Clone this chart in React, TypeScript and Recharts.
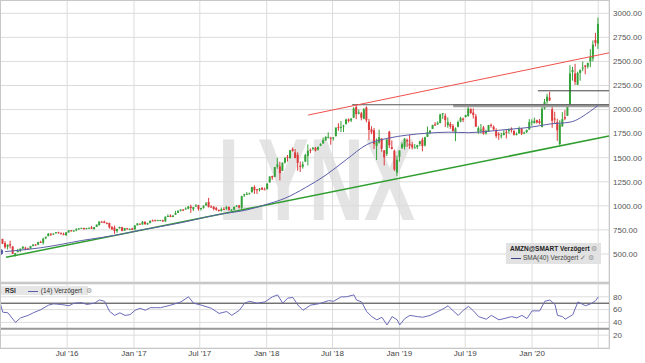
import React from "react";
import {
  ComposedChart, LineChart, Line, Bar, XAxis, YAxis, CartesianGrid, ReferenceLine,
} from "recharts";

// weekly AMZN candles [open, high, low, close], first week starts Mon 28 Dec 2015
const weeks2015 = [[675, 696, 671, 676]];
const weeks2016 = [
  [656, 658, 604, 607], [612, 633, 556, 570], [575, 599, 547, 596], [601, 638, 558, 587],
  [578, 582, 500, 502], [490, 510, 474, 507], [520, 553, 516, 534], [536, 558, 520, 555],
  [557, 581, 549, 575], [565, 575, 538, 560], [557, 565, 546, 552], [556, 585, 552, 583],
  [584, 600, 578, 598], [598, 603, 585, 594], [596, 627, 592, 624], [625, 637, 617, 620],
  [616, 669, 598, 659], [663, 680, 654, 679], [685, 718, 683, 710], [711, 715, 687, 702],
  [704, 715, 699, 712], [717, 728, 711, 726], [725, 731, 712, 717], [716, 725, 704, 707],
  [710, 722, 694, 698], [697, 726, 686, 725], [724, 746, 720, 745], [746, 749, 733, 736],
  [740, 747, 732, 744], [746, 767, 736, 758], [759, 768, 753, 766], [766, 772, 765, 772],
  [771, 771, 754, 757], [759, 771, 756, 769], [767, 774, 766, 772], [776, 791, 760, 761],
  [758, 780, 753, 778], [782, 806, 781, 805], [799, 838, 796, 837], [835, 844, 828, 834],
  [836, 847, 819, 822], [824, 827, 808, 818], [822, 825, 764, 776], [779, 791, 753, 755],
  [775, 795, 710, 739], [738, 762, 720, 760], [766, 784, 765, 780], [778, 782, 735, 740],
  [743, 770, 741, 768], [767, 771, 753, 757], [758, 767, 757, 760], [766, 772, 748, 750],
];
const weeks2017 = [
  [757, 799, 747, 796], [798, 820, 796, 817], [815, 816, 803, 808], [806, 843, 806, 835],
  [833, 841, 803, 810], [807, 825, 803, 821], [821, 847, 819, 845], [848, 858, 840, 845],
  [851, 857, 839, 850], [847, 855, 841, 852], [851, 854, 842, 852], [850, 856, 833, 845],
  [838, 890, 835, 887], [888, 912, 885, 894], [899, 911, 883, 884], [884, 905, 883, 898],
  [908, 948, 905, 925], [927, 952, 926, 950], [949, 962, 942, 962], [962, 966, 946, 959],
  [964, 985, 962, 972], [970, 998, 964, 993], [992, 1012, 927, 978], [965, 990, 945, 987],
  [1000, 1017, 992, 1003], [1006, 1011, 950, 968], [972, 980, 951, 978], [980, 1006, 970, 1001],
  [1005, 1040, 1000, 1025], [1040, 1083, 983, 987], [992, 1006, 980, 987], [990, 997, 953, 967],
  [977, 990, 950, 958], [958, 962, 940, 946], [946, 983, 940, 965], [968, 985, 960, 965],
  [970, 1000, 960, 986], [990, 992, 951, 956], [955, 965, 946, 961], [960, 992, 958, 990],
  [992, 1008, 990, 1002], [1005, 1009, 973, 982], [982, 1105, 966, 1101], [1110, 1125, 1092, 1120],
  [1120, 1143, 1113, 1125], [1125, 1137, 1120, 1130], [1141, 1198, 1138, 1195], [1197, 1213, 1124, 1162],
  [1173, 1175, 1124, 1162], [1166, 1185, 1150, 1180], [1187, 1194, 1167, 1168], [1172, 1190, 1168, 1169],
];
const weeks2018 = [
  [1173, 1236, 1170, 1230], [1245, 1305, 1240, 1305], [1309, 1314, 1270, 1294], [1301, 1403, 1301, 1403],
  [1408, 1498, 1385, 1430], [1410, 1458, 1265, 1339], [1364, 1451, 1362, 1448], [1449, 1500, 1440, 1500],
  [1509, 1528, 1460, 1500], [1494, 1579, 1493, 1578], [1589, 1606, 1563, 1571], [1555, 1590, 1495, 1496],
  [1530, 1556, 1366, 1447], [1417, 1460, 1352, 1405], [1407, 1460, 1387, 1431], [1460, 1540, 1455, 1527],
  [1519, 1638, 1420, 1572], [1582, 1596, 1546, 1581], [1600, 1612, 1576, 1602], [1604, 1611, 1565, 1574],
  [1585, 1616, 1575, 1610], [1625, 1650, 1620, 1641], [1648, 1710, 1646, 1683], [1681, 1723, 1675, 1716],
  [1706, 1763, 1700, 1716], [1707, 1717, 1635, 1700], [1699, 1714, 1678, 1710], [1724, 1813, 1720, 1813],
  [1821, 1858, 1780, 1813], [1812, 1880, 1766, 1818], [1827, 1842, 1767, 1834], [1848, 1906, 1846, 1896],
  [1898, 1908, 1865, 1882], [1886, 1912, 1870, 1905], [1916, 2025, 1912, 2012], [2026, 2050, 1900, 1952],
  [1958, 2000, 1950, 1970], [1961, 1976, 1888, 1915], [1904, 2016, 1900, 2003], [2021, 2033, 1868, 1889],
  [1874, 1903, 1685, 1788], [1795, 1826, 1745, 1764], [1784, 1809, 1590, 1642], [1622, 1700, 1476, 1665],
  [1657, 1791, 1647, 1712], [1700, 1700, 1562, 1593], [1578, 1578, 1420, 1502], [1539, 1690, 1517, 1690],
  [1769, 1779, 1600, 1629], [1610, 1679, 1586, 1591], [1571, 1585, 1363, 1377], [1346, 1520, 1307, 1478],
  [1510, 1575, 1460, 1575],
];
const weeks2019 = [
  [1602, 1660, 1590, 1640], [1615, 1705, 1586, 1697], [1684, 1699, 1612, 1670], [1644, 1736, 1590, 1626],
  [1638, 1665, 1586, 1607], [1600, 1642, 1598, 1607], [1610, 1634, 1590, 1631], [1642, 1676, 1620, 1671],
  [1686, 1709, 1566, 1620], [1627, 1718, 1617, 1712], [1716, 1823, 1715, 1764], [1760, 1785, 1745, 1781],
  [1800, 1842, 1798, 1838], [1845, 1870, 1830, 1843], [1846, 1877, 1842, 1861], [1860, 1956, 1858, 1950],
  [1960, 1965, 1903, 1962], [1935, 1959, 1818, 1890], [1837, 1917, 1811, 1869], [1851, 1870, 1800, 1823],
  [1830, 1849, 1772, 1776], [1760, 1815, 1672, 1804], [1822, 1885, 1815, 1870], [1876, 1925, 1868, 1911],
  [1906, 1917, 1870, 1893], [1922, 1946, 1918, 1942], [1934, 2035, 1925, 2011], [2007, 2012, 1955, 1964],
  [1969, 2012, 1907, 1943], [1930, 1953, 1820, 1823], [1770, 1826, 1748, 1807], [1790, 1850, 1753, 1792],
  [1814, 1830, 1740, 1749], [1754, 1792, 1740, 1777], [1770, 1841, 1768, 1839], [1841, 1855, 1812, 1839],
  [1822, 1835, 1783, 1794], [1777, 1805, 1704, 1725], [1746, 1765, 1685, 1739], [1725, 1760, 1700, 1732],
  [1736, 1786, 1732, 1757], [1769, 1798, 1700, 1762], [1777, 1803, 1750, 1791], [1801, 1815, 1762, 1785],
  [1778, 1785, 1730, 1739], [1738, 1762, 1733, 1745], [1753, 1824, 1750, 1800], [1804, 1805, 1735, 1751],
  [1751, 1772, 1745, 1760], [1767, 1792, 1756, 1787], [1794, 1901, 1788, 1869], [1874, 1899, 1832, 1875],
];
const weeks2020 = [
  [1860, 1917, 1855, 1883], [1890, 1895, 1855, 1865], [1880, 1902, 1846, 1861], [1820, 2055, 1815, 2008],
  [2010, 2110, 2000, 2079], [2085, 2163, 2060, 2134], [2125, 2185, 2088, 2095], [2003, 2040, 1811, 1883],
  [1907, 1977, 1850, 1901], [1870, 1905, 1675, 1785], [1641, 1890, 1626, 1846], [1827, 1973, 1820, 1901],
  [1922, 1994, 1889, 1906], [1936, 2053, 1934, 2042], [2044, 2461, 2040, 2375], [2389, 2444, 2300, 2410],
  [2375, 2475, 2256, 2287], [2258, 2394, 2256, 2380], [2380, 2419, 2300, 2409], [2426, 2500, 2398, 2436],
  [2458, 2462, 2367, 2443], [2448, 2488, 2426, 2483], [2500, 2626, 2440, 2545], [2531, 2718, 2500, 2675],
  [2722, 2796, 2655, 2692], [2685, 2955, 2630, 2890],
];

// SMA(40), keyed by week index
const smaWeeks = [0, 8, 16, 24, 32, 40, 48, 56, 64, 72, 80, 88, 96, 104, 112, 120, 128, 136, 144, 152, 160, 168, 176, 184, 192, 200, 208, 216, 224, 232, 235];
const smaValues = [520, 540, 565, 600, 640, 672, 708, 752, 790, 830, 878, 920, 952, 1010, 1080, 1190, 1320, 1480, 1635, 1700, 1735, 1755, 1765, 1760, 1775, 1795, 1815, 1850, 1870, 1985, 2045];

// RSI(14), keyed by week index
const rsiWeeks = [0, 1, 3, 6, 8, 11, 13, 16, 19, 21, 24, 27, 29, 32, 34, 37, 39, 41, 43, 45, 47, 49, 51, 53, 55, 57, 59, 61, 63, 67, 71, 74, 76, 79, 83, 86, 89, 91, 94, 96, 98, 101, 104, 107, 109, 111, 113, 115, 117, 119, 122, 125, 126, 129, 131, 134, 136, 139, 140, 142, 144, 146, 148, 150, 152, 154, 156, 157, 159, 161, 164, 166, 169, 172, 174, 176, 178, 180, 182, 184, 186, 188, 191, 193, 196, 198, 201, 203, 205, 207, 209, 212, 214, 216, 218, 219, 221, 222, 225, 227, 229, 230, 232, 234, 235];
const rsiValues = [70, 56, 55, 40, 47, 51, 55, 60, 67, 69, 68, 66, 70, 71, 68, 70, 75, 73, 57, 51, 55, 51, 52, 59, 62, 59, 63, 63, 63, 67, 72, 80, 70, 67, 62, 54, 57, 51, 59, 70, 73, 70, 72, 80, 83, 70, 78, 79, 67, 59, 67, 69, 70, 74, 73, 80, 80, 83, 75, 72, 57, 49, 44, 48, 36, 49, 44, 36, 46, 51, 49, 48, 51, 57, 61, 66, 58, 51, 59, 65, 58, 49, 45, 51, 44, 46, 49, 47, 51, 46, 58, 58, 73, 75, 68, 51, 49, 45, 52, 72, 68, 66, 69, 74, 80];

const priceTicks = [500, 750, 1000, 1250, 1500, 1750, 2000, 2250, 2500, 2750, 3000];
const rsiTicks = [20, 40, 60, 80];
const monthLabels = ["Jul '16", "Jan '17", "Jul '17", "Jan '18", "Jul '18", "Jan '19", "Jul '19", "Jan '20", ""];
const monthDates = [[2016, 7, 1], [2017, 1, 1], [2017, 7, 1], [2018, 1, 1], [2018, 7, 1], [2019, 1, 1], [2019, 7, 1], [2020, 1, 1], [2020, 7, 1]];

// days since 1 Jan 2016
const day = (y: number, m: number, d: number) => (Date.UTC(y, m - 1, d) - Date.UTC(2016, 0, 1)) / 864e5;
const monthTicks = monthDates.map(([y, m, d]) => day(y, m, d));
const xDomain = [day(2015, 12, 29) + 0.4, day(2020, 7, 31) - 0.4];

const GREEN = "#35a33a";
const RED = "#dc3a3c";

const allWeeks = [...weeks2015, ...weeks2016, ...weeks2017, ...weeks2018, ...weeks2019, ...weeks2020];
const rows = allWeeks.map(([o, h, l, c], i) => {
  const si = smaWeeks.indexOf(i);
  const ri = rsiWeeks.indexOf(i);
  return {
    t: day(2015, 12, 28) + 7 * i + 2,
    o, h, l, c,
    range: [l, h],
    sma: si >= 0 ? smaValues[si] : null,
    rsi: ri >= 0 ? rsiValues[ri] : null,
  };
});

const Candle = (props: any) => {
  const { x, y, width, height, payload } = props;
  if (!payload) return null;
  const { o, h, l, c } = payload;
  const color = c >= o ? GREEN : RED;
  const ppu = h === l ? 0 : height / (h - l);
  const top = y + (h - Math.max(o, c)) * ppu;
  const bh = Math.max(1, Math.abs(o - c) * ppu);
  const cx = x + width / 2;
  return (
    <g>
      <line x1={cx} x2={cx} y1={y} y2={y + height} stroke={color} strokeWidth={1} />
      <rect x={cx - 1} y={top} width={2} height={bh} fill={color} />
    </g>
  );
};

const font = "'Liberation Sans', Arial, sans-serif";
const tickStyle = { fontSize: 8, fill: "#555", fontFamily: font };

export default function App() {
  return (
    <div style={{ position: "relative", width: 645, height: 363, background: "#fff", fontFamily: font, overflow: "hidden" }}>
      <style>{`body{margin:0}`}</style>
      <div style={{
        position: "absolute", left: 218, top: 122, fontSize: 116, lineHeight: 1, fontWeight: "bold",
        color: "#e4e4e4", transform: "scaleX(0.66)", transformOrigin: "left top", whiteSpace: "nowrap",
      }}>LYNX</div>

      <div style={{ position: "absolute", left: 0, top: 0 }}>
        <ComposedChart width={645} height={282} data={rows} margin={{ top: 0, right: 0, bottom: 0, left: 0 }}>
          <CartesianGrid stroke="#dcdcdc" />
          <XAxis dataKey="t" type="number" domain={xDomain} ticks={monthTicks} hide allowDataOverflow />
          <YAxis
            orientation="right" type="number" domain={[209, 3138]} ticks={priceTicks} width={36} interval={0}
            allowDataOverflow axisLine={false} tickLine={false} tickSize={0} tickMargin={4}
            tick={tickStyle} tickFormatter={(v: number) => v.toFixed(2)}
          />
          <ReferenceLine segment={[{ x: day(2019, 5, 29), y: 2040 }, { x: xDomain[1], y: 2040 }]} stroke="#a0a0a0" strokeWidth={3} />
          <ReferenceLine segment={[{ x: day(2018, 8, 24), y: 2050 }, { x: xDomain[1], y: 2050 }]} stroke="#555" strokeWidth={1} />
          <ReferenceLine segment={[{ x: day(2020, 1, 17), y: 2195 }, { x: xDomain[1], y: 2195 }]} stroke="#444" strokeWidth={1} />
          <ReferenceLine segment={[{ x: day(2018, 4, 25), y: 1943 }, { x: xDomain[1], y: 2589 }]} stroke="#f0504c" strokeWidth={1} />
          <ReferenceLine segment={[{ x: day(2016, 1, 15), y: 465 }, { x: xDomain[1], y: 1725 }]} stroke="#2f9e2f" strokeWidth={1.5} />
          <Bar dataKey="range" shape={<Candle />} barSize={2} isAnimationActive={false} />
          <Line dataKey="sma" type="monotone" connectNulls dot={false} stroke="#5c5ea8" strokeWidth={1} isAnimationActive={false} />
        </ComposedChart>
      </div>
      <div style={{ position: "absolute", left: 0, top: 0, width: 608, height: 281, border: "1px solid #c8c8c8", pointerEvents: "none" }} />

      <div style={{ position: "absolute", left: 0, top: 284 }}>
        <LineChart width={645} height={79} data={rows} margin={{ top: 0, right: 0, bottom: 0, left: 0 }}>
          <CartesianGrid stroke="#dcdcdc" />
          <XAxis
            dataKey="t" type="number" domain={xDomain} ticks={monthTicks} allowDataOverflow height={15} interval={0}
            axisLine={false} tickLine={false} tickSize={0} tickMargin={2} tick={{ ...tickStyle, fill: "#444" }}
            tickFormatter={(v: number) => monthLabels[monthTicks.indexOf(v)] ?? ""}
          />
          <YAxis
            orientation="right" type="number" domain={[0, 100]} ticks={rsiTicks} width={36} interval={0}
            allowDataOverflow axisLine={false} tickLine={false} tickSize={0} tickMargin={4} tick={tickStyle}
          />
          <ReferenceLine y={70} stroke="#333" strokeWidth={1} />
          <ReferenceLine y={30} stroke="#999" strokeWidth={2} />
          <Line dataKey="rsi" type="linear" connectNulls dot={false} stroke="#6a6bb8" strokeWidth={1} isAnimationActive={false} />
        </LineChart>
      </div>
      <div style={{ position: "absolute", left: 0, top: 283, width: 608, height: 64, border: "1px solid #c8c8c8", pointerEvents: "none" }} />

      <div style={{ position: "absolute", left: 1, top: 286, width: 87, height: 9, background: "#e6e6e6", fontSize: 6.5, lineHeight: "9px", color: "#333", whiteSpace: "nowrap" }}>
        <span style={{ fontWeight: "bold", marginLeft: 4 }}>RSI</span>
        <span style={{ display: "inline-block", width: 10, height: 1.5, background: "#5c5ea8", verticalAlign: "middle", margin: "0 3px 0 12px" }} />
        <span>(14) Verzögert</span>
        <span style={{ color: "#999", marginLeft: 4 }}>⚙</span>
      </div>

      <div style={{ position: "absolute", left: 506, top: 243, width: 95, height: 21, background: "#e2e2e2", fontSize: 6.5, color: "#222", whiteSpace: "nowrap" }}>
        <div style={{ position: "absolute", left: 4, top: 2, lineHeight: "8px", fontWeight: "bold" }}>
          AMZN@SMART Verzögert <span style={{ color: "#999", fontWeight: "normal" }}>⚙</span>
        </div>
        <div style={{ position: "absolute", left: 5, top: 11, lineHeight: "8px", color: "#444" }}>
          <span style={{ display: "inline-block", width: 10, height: 1.5, background: "#3e4088", verticalAlign: "middle", marginRight: 2 }} />
          SMA(40) Verzögert <span style={{ color: "#777" }}>✓</span> <span style={{ color: "#999" }}>⚙</span>
        </div>
      </div>
    </div>
  );
}
